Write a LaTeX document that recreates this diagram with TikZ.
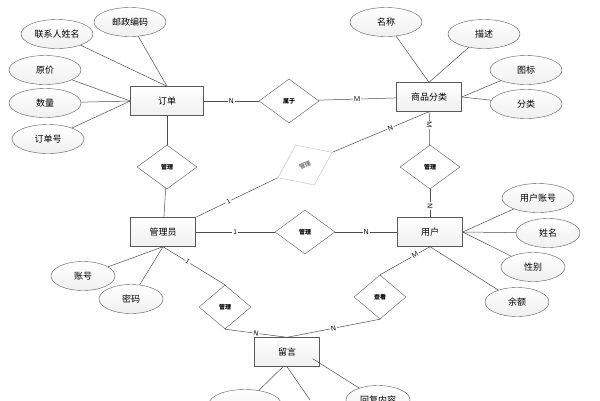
\documentclass[tikz,border=0pt]{standalone}
\usepackage{fontspec}
\newfontfamily\cjk{Noto Sans CJK SC}
\usetikzlibrary{shapes.geometric}
\tikzset{
  ent/.style={draw=gray!70!black, top color=white, bottom color=gray!12, minimum width=65pt, minimum height=29pt, font=\cjk\fontsize{9}{9}\selectfont},
  rel/.style={diamond, draw=gray!70!black, fill=white, minimum width=60pt, minimum height=44pt, aspect=1.4, inner sep=0pt, font=\cjk\fontsize{6}{6}\selectfont\bfseries},
  attr/.style={ellipse, draw=gray!70!black, top color=white, bottom color=gray!12, minimum width=72pt, minimum height=29pt, inner sep=0pt, font=\cjk\fontsize{9}{9}\selectfont},
  lbl/.style={fill=white, inner sep=1pt, font=\sffamily\fontsize{7}{7}\selectfont},
  ln/.style={draw=gray!60!black, line width=0.5pt}
}
\begin{document}
\begin{tikzpicture}[x=1pt,y=-1pt]
  \useasboundingbox (0,0) rectangle (600,400);
  % entities
  \node[ent, minimum width=73pt] (order) at (167,101) {订单};
  \node[ent] (cat) at (429,97) {商品分类};
  \node[ent] (admin) at (163,232) {管理员};
  \node[ent] (user) at (430,232) {用户};
  \node[ent] (msg) at (287,352) {留言};
  % attributes
  \node[attr] (contact) at (57,34) {联系人姓名};
  \node[attr] (zip) at (130,22) {邮政编码};
  \node[attr] (price) at (45,70) {原价};
  \node[attr] (qty) at (45,103) {数量};
  \node[attr] (ono) at (48,139) {订单号};
  \node[attr] (cname) at (386,22) {名称};
  \node[attr] (cdesc) at (484,34) {描述};
  \node[attr] (cicon) at (526,70) {图标};
  \node[attr] (ccls) at (526,104) {分类};
  \node[attr] (uacc) at (538,198) {用户账号};
  \node[attr, minimum width=64pt] (uname) at (548,233) {姓名};
  \node[attr, minimum width=64pt] (usex) at (533,267) {性别};
  \node[attr, minimum width=64pt] (ubal) at (517,302) {余额};
  \node[attr, minimum width=64pt] (aacc) at (83,276) {账号};
  \node[attr, minimum width=64pt] (apwd) at (131,299) {密码};
  \node[attr] (mtime) at (245,404) {};
  \node[attr, minimum width=64pt] (mreply) at (378,400) {回复内容};
  % relations
  \node[rel] (belong) at (289,101) {属于};
  \node[rel] (mgOrder) at (167,167) {管理};
  \node[rel, draw=gray!50, rotate=25, text=gray] (mgCat) at (305,165) {管理};
  \node[rel] (mgCatUser) at (430,167) {管理};
  \node[rel] (mgUser) at (305,232) {管理};
  \node[rel, minimum width=52pt] (mgMsg) at (225,307) {管理};
  \node[rel, minimum width=52pt] (view) at (380,297) {查看};
  % attribute links
  \draw[ln] (order.north) -- (contact);
  \draw[ln] (order.north) -- (zip);
  \foreach \a in {price,qty,ono} \draw[ln] (order.west) -- (\a);
  \foreach \a in {cname,cdesc} \draw[ln] (cat.north) -- (\a);
  \foreach \a in {cicon,ccls} \draw[ln] (cat.east) -- (\a);
  \foreach \a in {uacc,uname,usex} \draw[ln] (user.east) -- (\a);
  \draw[ln] (user.south) -- (ubal);
  \foreach \a in {aacc,apwd} \draw[ln] (admin.south) -- (\a);
  \draw[ln] (msg.south) ++(-4,0) coordinate (ms1) -- (mtime);
  \draw[ln] (msg.south) -- (310,400);
  \draw[ln] (msg.south east) ++(-7,-8) coordinate (ms2) -- (mreply);
  % relation links
  \draw[ln] (order) -- node[lbl]{N} (belong);
  \draw[ln] (belong) -- node[lbl]{M} (cat);
  \draw[ln] (order) -- (mgOrder);
  \draw[ln] (mgOrder) -- (admin);
  \draw[ln] (cat.south) -- node[lbl, pos=0.4, sloped]{N} (mgCat.east);
  \draw[ln] (mgCat.west) -- node[lbl, pos=0.6, sloped]{1} (admin.north east);
  \draw[ln] (cat) -- node[lbl, pos=0.4, rotate=-90]{M} (mgCatUser);
  \draw[ln] (mgCatUser) -- node[lbl, pos=0.6, rotate=-90]{N} (user);
  \draw[ln] (admin) -- node[lbl]{1} (mgUser);
  \draw[ln] (mgUser) -- node[lbl]{N} (user);
  \draw[ln] (admin.south) -- node[lbl, pos=0.4, sloped]{1} (mgMsg.north);
  \draw[ln] (mgMsg.south) -- node[lbl, sloped]{N} (msg.north);
  \draw[ln] (user.south) -- node[lbl, pos=0.3, sloped]{M} (view.north);
  \draw[ln] (view.south) -- node[lbl, sloped]{N} (msg.north);
\end{tikzpicture}
\end{document}
